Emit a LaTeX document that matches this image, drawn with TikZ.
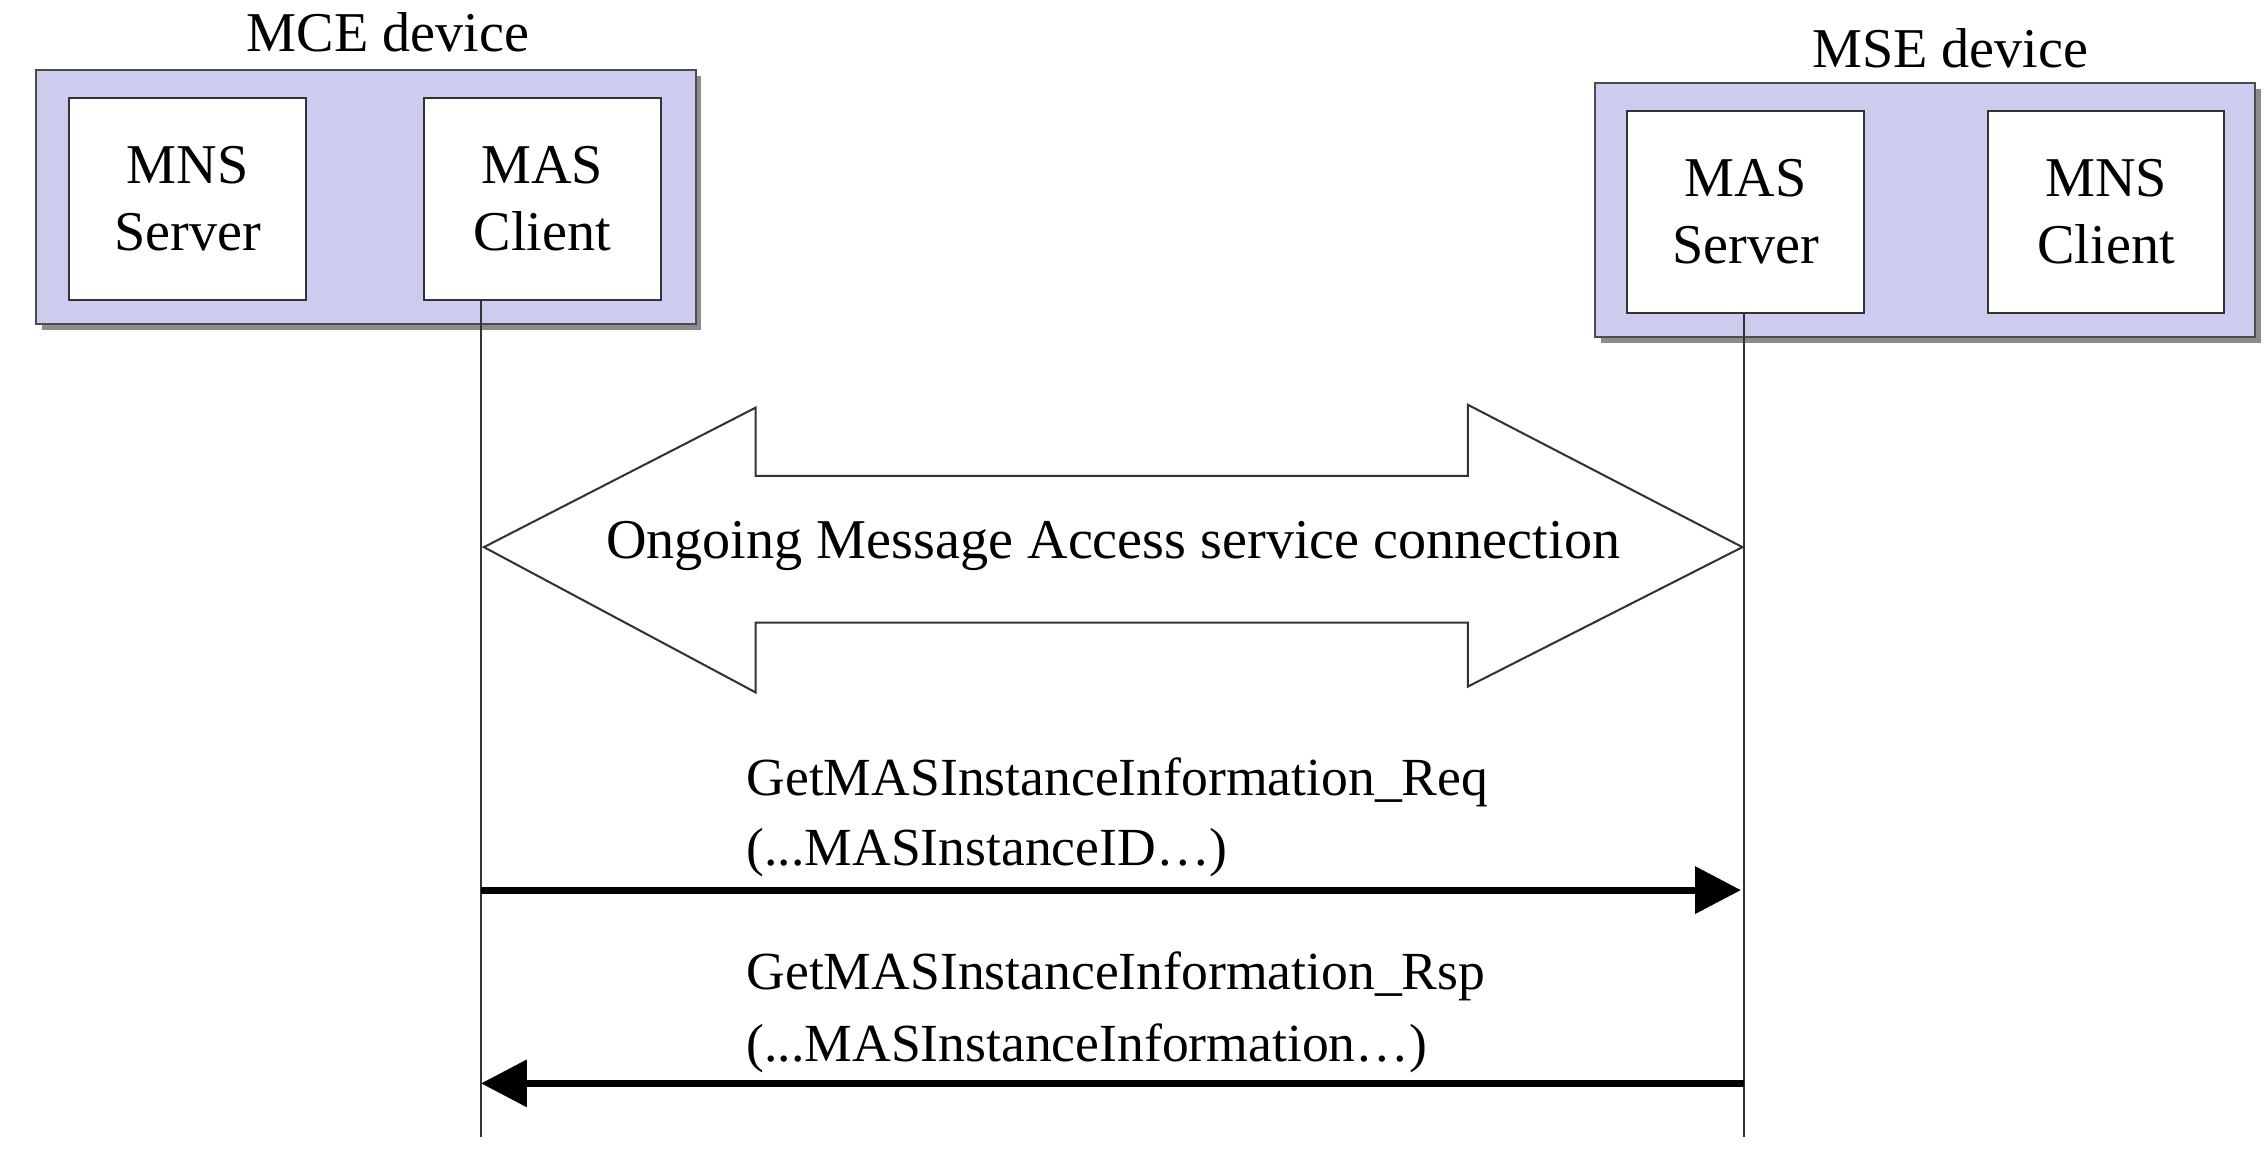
\documentclass[tikz,border=0pt]{standalone}
\usepackage{fontspec}
\setmainfont{Liberation Serif}
\usetikzlibrary{arrows.meta}
\definecolor{devfill}{RGB}{204,204,238}
\tikzset{
    device/.style={draw=black!70,fill=devfill,minimum width=4.54cm,minimum height=1.75cm,anchor=north west,inner sep=0pt},
    shade/.style={fill=black!45,minimum width=4.54cm,minimum height=1.75cm,anchor=north west,inner sep=0pt},
    entity/.style={draw=black!80,fill=white,minimum width=1.63cm,minimum height=1.39cm,anchor=north west,align=center,inner sep=0pt,font=\fontsize{11}{13}\selectfont},
    msg/.style={line width=1.4pt,-{Triangle[length=9pt,width=9pt]}},
    lbl/.style={anchor=west,inner sep=0pt,font=\fontsize{10.5}{12}\selectfont}
}
\begin{document}
\begin{tikzpicture}[x=1cm,y=1cm,>=latex]
            \useasboundingbox (0,0) rectangle (15.6,7.935);
            %MCE device
            \node[shade] at (0.28,7.42) {};
            \node[device] (mce) at (0.24,7.46) {};
            \node[font=\fontsize{11}{13}\selectfont] (mcelbl) at (2.67,7.71) {MCE device};
            \node[entity] (mnss) at (0.47,7.27) {MNS\\Server};
            \node[entity] (masc) at (2.91,7.27) {MAS\\Client};
            %MSE device
            \node[shade] at (11.01,7.33) {};
            \node[device] (mse) at (10.97,7.37) {};
            \node[font=\fontsize{11}{13}\selectfont] (mselbl) at (13.42,7.60) {MSE device};
            \node[entity] (mass) at (11.19,7.18) {MAS\\Server};
            \node[entity] (mnsc) at (13.67,7.18) {MNS\\Client};

            % lifelines
            \coordinate (L0) at (3.31,7.88);
            \coordinate (L1) at (3.31,0.11);
            \coordinate (R0) at (12.00,7.78);
            \coordinate (R1) at (12.00,0.11);
            \draw[black!80] (masc.south -| L0) -- (L1);
            \draw[black!80] (mass.south -| R0) -- (R1);

            % big double arrow
            \draw[black!80,fill=white] (3.33,4.17) -- (5.20,5.13) -- (5.20,4.66) -- (10.10,4.66)
                -- (10.10,5.15) -- (11.99,4.17) -- (10.10,3.21) -- (10.10,3.65)
                -- (5.20,3.65) -- (5.20,3.17) -- cycle;
            \node[font=\fontsize{11}{13}\selectfont] (conn) at (7.66,4.18) {Ongoing Message Access service connection};

            %request
            \coordinate (A1) at (3.31,1.81);
            \coordinate (B1) at (11.98,1.81);
            \draw[msg] (A1) -- (B1);
            \node[lbl] (req1) at (5.13,2.55) {GetMASInstanceInformation\_Req};
            \node[lbl] (req2) at (5.13,2.07) {(...MASInstanceID…)};

            %response
            \coordinate (A2) at (12.00,0.48);
            \coordinate (B2) at (3.31,0.48);
            \draw[msg] (A2) -- (B2);
            \node[lbl] (rsp1) at (5.13,1.22) {GetMASInstanceInformation\_Rsp};
            \node[lbl] (rsp2) at (5.13,0.72) {(...MASInstanceInformation…)};
        \end{tikzpicture}
\end{document}
